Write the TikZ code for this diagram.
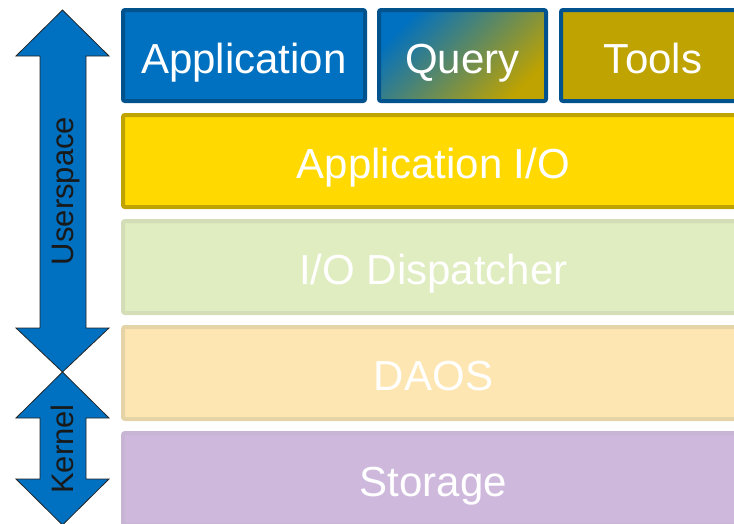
\documentclass[tikz,border=0pt]{standalone}
\usepackage{fontspec}
\setmainfont{Liberation Sans}
\definecolor{appblue}{HTML}{0070C0}
\definecolor{edgeblue}{HTML}{02538D}
\definecolor{toololive}{HTML}{BFA300}
\definecolor{iogold}{HTML}{FFD900}
\definecolor{dispgreen}{HTML}{E0EDC0}
\definecolor{dispedge}{HTML}{D3DDB8}
\definecolor{daosbeige}{HTML}{FDE6B1}
\definecolor{daosedge}{HTML}{E6D4A9}
\definecolor{storlilac}{HTML}{CEB9DD}
\definecolor{storedge}{HTML}{C8B5D5}
\tikzset{
  layer/.style={rectangle, rounded corners=2pt, line width=4pt, text=white,
    font=\fontsize{42}{48}\selectfont, inner sep=0pt,
    text height=35pt, text depth=0pt},
  topbox/.style={layer, draw=edgeblue, minimum height=91},
  stackbox/.style={layer, minimum width=621, minimum height=92},
  sidearrow/.style={fill=appblue, draw=black!85, line width=0.8pt, line join=miter},
  sidelabel/.style={rotate=90, font=\fontsize{31}{36}\selectfont, text=black!90,
    inner sep=0pt, text height=22pt, text depth=0pt}
}
\begin{document}
\begin{tikzpicture}[x=1pt,y=-1pt]
\useasboundingbox (0,0) rectangle (734,523);
\clip (0,0) rectangle (734,523);
%\draw [lightgray](0,0) grid (734,523);

% top row
\node [topbox, fill=appblue, minimum width=242] (app) at (244,55.5) {Application};
\node [topbox, top color=appblue, bottom color=toololive, shading angle=45,
  minimum width=167] (query) at (462.5,55.5) {Query};
\node [topbox, fill=toololive, minimum width=184] (tools) at (653,55.5) {Tools};

% layers
\node [stackbox, draw=toololive, fill=iogold] (appio) at (433.5,161) {Application I/O};
\node [stackbox, draw=dispedge, fill=dispgreen] (disp) at (433.5,267) {I/O Dispatcher};
\node [stackbox, draw=daosedge, fill=daosbeige] (daos) at (433.5,373) {DAOS};
\node [stackbox, draw=storedge, fill=storlilac] (stor) at (433.5,479) {Storage};

% side arrows
\draw [sidearrow] (62.5,10) -- (109,56) -- (86,56) -- (86,328) -- (109,328)
  -- (62.5,372) -- (16,328) -- (40,328) -- (40,56) -- (16,56) -- cycle;
\draw [sidearrow] (62.5,372) -- (109,418) -- (86,418) -- (86,479) -- (109,479)
  -- (62.5,525) -- (16,479) -- (40,479) -- (40,418) -- (16,418) -- cycle;

\node [sidelabel] (user) at (62.5,191) {Userspace};
\node [sidelabel] (kern) at (62.5,449) {Kernel};
\end{tikzpicture}
\end{document}
